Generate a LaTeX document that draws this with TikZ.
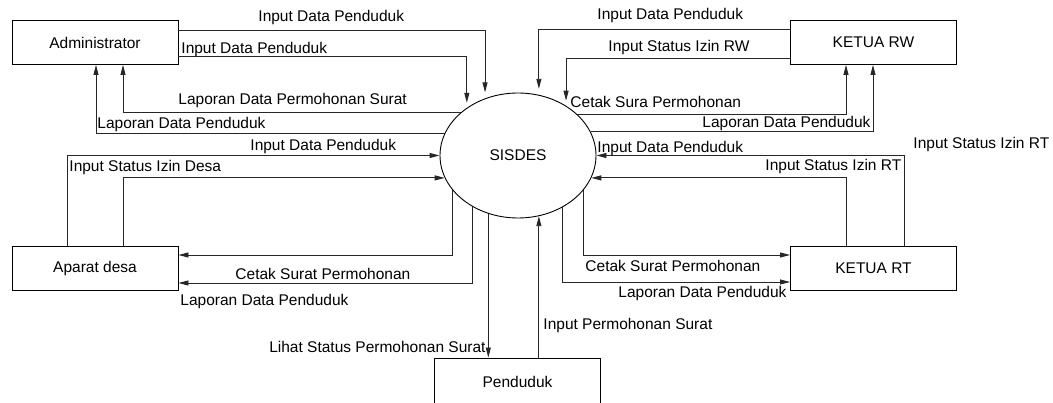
\documentclass[tikz,border=0pt]{standalone}
\usepackage{fontspec}
\setmainfont{Liberation Sans}
\usetikzlibrary{arrows.meta}
\usetikzlibrary{shapes.geometric}

\tikzset{
  entity/.style={draw, minimum width=166pt, minimum height=44pt, inner sep=0pt},
  flow/.style={draw=black!85, -{Triangle[length=10pt,width=5pt]}},
  lbl/.style={inner sep=0pt, anchor=base west},
}

\begin{document}
\begin{tikzpicture}[x=1pt,y=1pt,yscale=-1,xscale=1, font=\fontsize{15.5}{18}\selectfont, line width=0.9pt]
\useasboundingbox (0,0) rectangle (1053,403);

% Entities
\node[entity] (admin) at (95,42.5) {Administrator};
\node[entity] (rw) at (873.5,42.5) {KETUA RW};
\node[entity] (aparat) at (95,268.5) {Aparat desa};
\node[entity] (rt) at (873.5,268.5) {KETUA RT};
\node[entity, minimum height=48pt] (penduduk) at (517.5,382) {Penduduk};

% Process
\node[draw, ellipse, minimum width=156pt, minimum height=125pt, inner sep=0pt] (sisdes) at (518,155.5) {SISDES};

% Administrator flows
\draw[flow, shorten >=6pt] (admin.east |- 0,30) -| (sisdes.120);
\draw[flow, shorten >=5pt] (admin.east |- 0,56) -| (sisdes.137);
\draw[flow] (sisdes.143) -| (admin.south -| 123,0);
\draw[flow] (sisdes.163) -| (admin.south -| 96,0);

% KETUA RW flows
\draw[flow, shorten >=6pt] (rw.west |- 0,29) -| (sisdes.71);
\draw[flow, shorten >=5pt] (rw.west |- 0,58) -| (sisdes.46);
\draw[flow] (sisdes.35) -| (rw.south -| 846,0);
\draw[flow] (sisdes.18) -| (rw.south -| 873,0);

% Aparat desa flows
\draw[flow] (aparat.north -| 67,0) |- (sisdes.west);
\draw[flow] (aparat.north -| 123,0) |- (sisdes.197);
\draw[flow] (sisdes.208) |- (aparat.east |- 0,255);
\draw[flow] (sisdes.228) |- (aparat.east |- 0,283);

% KETUA RT flows
\draw[flow] (rt.north -| 904,0) |- (sisdes.east);
\draw[flow] (rt.north -| 846,0) |- (sisdes.343);
\draw[flow] (sisdes.332) |- (rt.west |- 0,255);
\draw[flow] (sisdes.311) |- (rt.west |- 0,282);

% Penduduk flows
\draw[flow] (sisdes.243) -- (sisdes.243 |- penduduk.north);
\draw[flow] (sisdes.289 |- penduduk.north) -- (sisdes.289);

% Labels
\node[lbl] (t1) at (258,22) {Input Data Penduduk};
\node[lbl] (t2) at (181,54) {Input Data Penduduk};
\node[lbl] (t3) at (178,105) {Laporan Data Permohonan Surat};
\node[lbl] (t4) at (97,129) {Laporan Data Penduduk};
\node[lbl] (t5) at (597,20) {Input Data Penduduk};
\node[lbl] (t6) at (608,52) {Input Status Izin RW};
\node[lbl] (t7) at (570,108) {Cetak Sura Permohonan};
\node[lbl] (t8) at (702,128) {Laporan Data Penduduk};
\node[lbl] (t9) at (913,149) {Input Status Izin RT};
\node[lbl] (t10) at (250,151) {Input Data Penduduk};
\node[lbl] (t11) at (69,172) {Input Status Izin Desa};
\node[lbl] (t12) at (597,153) {Input Data Penduduk};
\node[lbl] (t13) at (765,171) {Input Status Izin RT};
\node[lbl] (t14) at (235,280) {Cetak Surat Permohonan};
\node[lbl] (t15) at (180,306) {Laporan Data Penduduk};
\node[lbl] (t16) at (585,272) {Cetak Surat Permohonan};
\node[lbl] (t17) at (618,298) {Laporan Data Penduduk};
\node[lbl] (t18) at (543,330) {Input Permohonan Surat};
\node[lbl, anchor=base east] (t19) at (486,353) {Lihat Status Permohonan Surat};

\end{tikzpicture}
\end{document}
